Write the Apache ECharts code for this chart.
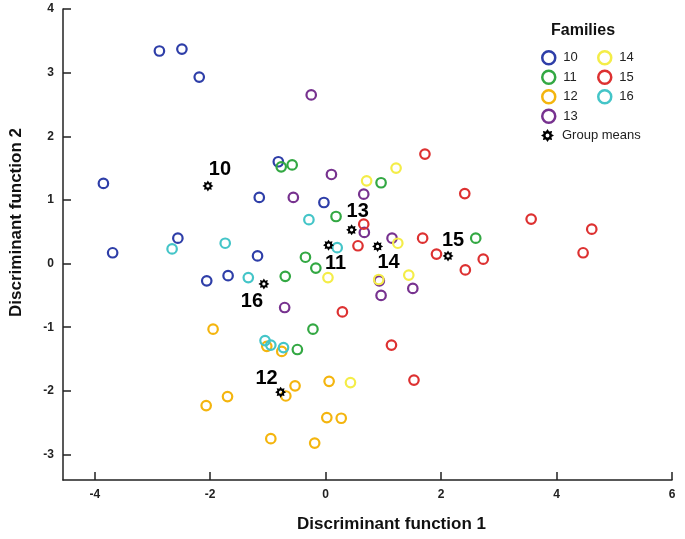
<!DOCTYPE html>
<html>
<head>
<meta charset="utf-8">
<script src="https://cdn.jsdelivr.net/npm/echarts@6/dist/echarts.min.js"></script>
<style>html,body{margin:0;padding:0;background:#fff}#c{width:685px;height:539px}</style>
</head>
<body>
<div id="c"></div>
<script>
// ---- data ----
const families = ['10', '11', '12', '13', '14', '15', '16'];
const x10 = [-2.88, -2.49, -2.19, -3.85, -3.69, -2.56, -2.06, -1.69, -1.18, -1.15, -0.82, -0.03];
const y10 = [3.34, 3.37, 2.93, 1.26, 0.17, 0.40, -0.27, -0.19, 0.12, 1.04, 1.60, 0.96];
const x11 = [-0.77, -0.58, 0.96, 0.18, 2.60, -0.35, -0.17, -0.70, -0.22, -0.49];
const y11 = [1.52, 1.55, 1.27, 0.74, 0.40, 0.10, -0.07, -0.20, -1.03, -1.35];
const x12 = [-1.95, -2.07, -1.70, -1.02, -0.76, -0.53, -0.69, 0.06, 0.02, 0.27, -0.95, -0.19];
const y12 = [-1.03, -2.23, -2.09, -1.30, -1.38, -1.92, -2.08, -1.85, -2.42, -2.43, -2.75, -2.82];
const x13 = [-0.25, 0.10, -0.56, 0.66, 0.67, 1.15, 0.93, 0.96, 1.51, -0.71];
const y13 = [2.65, 1.40, 1.04, 1.09, 0.49, 0.40, -0.27, -0.50, -0.39, -0.69];
const x14 = [1.22, 0.71, 1.25, 0.04, 0.92, 1.44, 0.43];
const y14 = [1.50, 1.30, 0.32, -0.22, -0.25, -0.18, -1.87];
const x15 = [1.72, 2.41, 3.56, 4.61, 4.46, 2.73, 2.42, 1.68, 0.66, 0.56, 1.92, 0.29, 1.14, 1.53];
const y15 = [1.72, 1.10, 0.70, 0.54, 0.17, 0.07, -0.10, 0.40, 0.62, 0.28, 0.15, -0.76, -1.28, -1.83];
const x16 = [-2.66, -1.74, -0.29, 0.20, -1.34, -1.05, -0.95, -0.73];
const y16 = [0.23, 0.32, 0.69, 0.25, -0.22, -1.21, -1.28, -1.32];
const meanNames = ['10', '11', '12', '13', '14', '15', '16'];
const meanX = [-2.04, 0.05, -0.78, 0.45, 0.90, 2.12, -1.07];
const meanY = [1.22, 0.29, -2.02, 0.53, 0.27, 0.12, -0.32];
const xTicks = [-4, -2, 0, 2, 4, 6];
const yTicks = [-3, -2, -1, 0, 1, 2, 3, 4];

// ---- styles ----
const famX = [x10, x11, x12, x13, x14, x15, x16];
const famY = [y10, y11, y12, y13, y14, y15, y16];
const colors = ['#2e3ea8', '#33a843', '#f4b50e', '#77328f', '#f4ed48', '#dd3131', '#44c5c8'];
const meanLabelOffsets = [[12, -16], [7, 18], [-14, -14], [6, -18], [11, 16], [5, -15], [-12, 18]];
const starPath = 'path://M20,10L16,12.49L17.07,17.07L12.49,16L10,20L7.51,16L2.93,17.07L4,12.49L0,10L4,7.51L2.93,2.93L7.51,4L10,0L12.49,4L17.07,2.93L16,7.51Z M13,10A3,3 0 1 0 7,10A3,3 0 1 0 13,10Z';
const FONT = 'Liberation Sans, Arial, sans-serif';

const series = families.map((f, i) => ({
  name: f,
  type: 'scatter',
  symbol: 'circle',
  symbolSize: 9.5,
  itemStyle: { color: 'rgba(255,255,255,0)', borderColor: colors[i], borderWidth: 2.2, opacity: 1 },
  emphasis: { disabled: true },
  data: famX[i].map((x, j) => [x, famY[i][j]])
}));
series.push({
  name: 'Group means',
  type: 'scatter',
  symbol: starPath,
  symbolSize: 11,
  z: 5,
  itemStyle: { color: '#000', opacity: 1 },
  emphasis: { disabled: true },
  label: {
    show: true, position: 'inside', formatter: '{b}',
    fontFamily: FONT, fontSize: 20, fontWeight: 'bold', color: '#000',
    textBorderWidth: 0
  },
  data: meanNames.map((n, i) => ({
    name: n, value: [meanX[i], meanY[i]],
    label: { offset: meanLabelOffsets[i] }
  }))
});

const legendCommon = {
  orient: 'vertical', padding: 0, itemGap: 4, itemWidth: 13, itemHeight: 13,
  textStyle: { fontFamily: FONT, fontSize: 13, lineHeight: 15, color: '#222', padding: [0, 0, 0, 3] },
  itemStyle: { borderWidth: 2.5, opacity: 1 },
  selectedMode: false
};

const chart = echarts.init(document.getElementById('c'), null, { renderer: 'canvas' });
chart.setOption({
  animation: false,
  backgroundColor: '#fff',
  title: {
    text: 'Families', left: 551, top: 23, padding: 0,
    textStyle: { fontFamily: FONT, fontSize: 16, fontWeight: 'bold', color: '#111' }
  },
  legend: [
    Object.assign({}, legendCommon, { data: families.slice(0, 4), left: 541, top: 50 }),
    Object.assign({}, legendCommon, { data: families.slice(4), left: 597, top: 50 }),
    Object.assign({}, legendCommon, { data: ['Group means'], left: 541, top: 128, itemStyle: { opacity: 1 } })
  ],
  grid: { left: 60, right: 13, top: 9, bottom: 59, containLabel: false },
  xAxis: {
    type: 'value', min: -4.55, max: 6,
    name: 'Discriminant function 1', nameLocation: 'middle', nameGap: 36,
    nameTextStyle: { fontFamily: FONT, fontSize: 17, fontWeight: 'bold', color: '#111', padding: [0, 0, 0, 48] },
    axisLine: { show: true, onZero: false, lineStyle: { color: '#222', width: 1.5 } },
    axisTick: { show: true, inside: true, length: 8, customValues: xTicks, lineStyle: { color: '#222', width: 1.5 } },
    axisLabel: { customValues: xTicks, margin: 9, fontFamily: FONT, fontSize: 12, fontWeight: 'bold', color: '#222' },
    splitLine: { show: false }
  },
  yAxis: {
    type: 'value', min: -3.4, max: 4,
    name: 'Discriminant function 2', nameLocation: 'middle', nameGap: 38, nameRotate: 90,
    nameTextStyle: { fontFamily: FONT, fontSize: 17, fontWeight: 'bold', color: '#111', padding: [0, 0, 0, 44] },
    axisLine: { show: true, onZero: false, lineStyle: { color: '#222', width: 1.5 } },
    axisTick: { show: true, inside: true, length: 8, customValues: yTicks, lineStyle: { color: '#222', width: 1.5 } },
    axisLabel: { customValues: yTicks, margin: 9, fontFamily: FONT, fontSize: 12, fontWeight: 'bold', color: '#222' },
    splitLine: { show: false }
  },
  series: series
});
</script>
</body>
</html>
